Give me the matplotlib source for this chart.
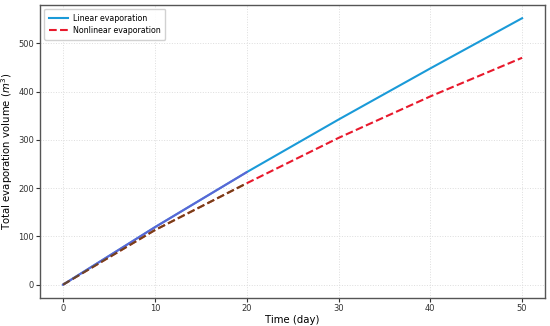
import numpy as np
import matplotlib.pyplot as plt

days = [0, 10, 20, 30, 40, 50]
linear_evap = [0, 119, 233, 342, 448, 552]
nonlinear_evap = [0, 113, 210, 304, 390, 470]

LINEAR_COLOR = "#1a9ad8"
LINEAR_EARLY = "#6a5ad6"
NONLINEAR_COLOR = "#e8192c"
NONLINEAR_EARLY = "#5a4a12"


def main():
    fig = plt.figure(figsize=(5.5, 3.26), dpi=100)
    ax = fig.add_axes([0.073, 0.086, 0.918, 0.899])

    ax.plot(days, linear_evap, color=LINEAR_COLOR, linewidth=1.5,
            label="Linear evaporation")
    ax.plot(days, nonlinear_evap, color=NONLINEAR_COLOR, linewidth=1.5,
            linestyle="--", label="Nonlinear evaporation")

    # early part of both curves is drawn in a darker shade
    ax.plot(days[:3], linear_evap[:3], color=LINEAR_EARLY, linewidth=1.5,
            alpha=0.8)
    ax.plot(days[:3], nonlinear_evap[:3], color=NONLINEAR_EARLY,
            linewidth=1.5, linestyle="--", alpha=0.8)

    ax.set_xlabel("Time (day)", fontsize=7.3, labelpad=1.5)
    ax.set_ylabel("Total evaporation volume ($m^3$)", fontsize=7.3,
                  labelpad=2)
    ax.tick_params(labelsize=6, length=3, pad=1.5, colors="#333333")
    ax.set_xticks([0, 10, 20, 30, 40, 50])
    ax.set_yticks([0, 100, 200, 300, 400, 500])
    ax.grid(True, color="#dddddd", linestyle=":", linewidth=0.7)
    for s in ax.spines.values():
        s.set_color("#555555")
        s.set_linewidth(1.0)

    ax.legend(loc="upper left", fontsize=5.7, framealpha=0.9,
              handlelength=2.4, borderpad=0.6, labelspacing=0.45,
              handletextpad=0.6)

    fig.savefig("out.png", dpi=100)


if __name__ == "__main__":
    main()
